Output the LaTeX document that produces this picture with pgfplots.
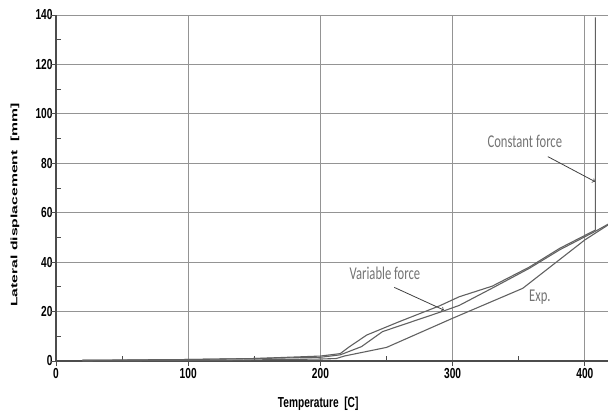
\documentclass[border=0pt]{standalone}
\usepackage{pgfplots}
\pgfplotsset{compat=1.18}
\usepackage{fontspec}
\setmainfont{Liberation Sans}
\newfontfamily\tickfont[FakeStretch=0.7]{Liberation Sans}
\newfontfamily\ylabfont[FakeStretch=1.69]{Liberation Sans}
\newfontfamily\annfont[FakeStretch=0.7]{Carlito}
\definecolor{curve}{gray}{0.38}
\definecolor{gridc}{gray}{0.58}
\definecolor{anntext}{gray}{0.45}
\begin{document}
\begin{tikzpicture}
\begin{axis}[name=ax, width=552pt, height=346pt, scale only axis,
  xmin=0, xmax=417.5, ymin=0, ymax=140,
  xtick={0,100,...,400}, ytick={0,20,...,140},
  minor xtick={50,150,250,350}, minor ytick={10,30,...,130},
  grid=major, major grid style={gridc, line width=0.9pt},
  axis lines*=left, axis line style={line width=1.3pt, black!70, -},
  tick align=inside, major tick length=0pt, minor tick length=5pt,
  minor tick style={black!70, line width=0.8pt},
  /pgf/number format/assume math mode=true,
  ticklabel style={font=\tickfont\bfseries\fontsize{14.5}{16}\selectfont},
  xticklabel style={yshift=-4pt},
  extra x ticks={0,100,200,300,400}, extra x tick labels={},
  extra y ticks={0,20,...,140}, extra y tick labels={},
  extra tick style={tick align=outside, major tick length=5pt, grid=none,
    major tick style={black!70, line width=0.8pt}},
  xlabel={Temperature\ \ [C]},
  xlabel style={font=\tickfont\bfseries\fontsize{14.5}{16}\selectfont,
    at={(axis description cs:0.475,-0.124)}, anchor=center},
  ylabel={Lateral displacement\ \ [mm]},
  ylabel style={font=\ylabfont\bfseries\fontsize{9.3}{11}\selectfont,
    at={(axis description cs:-0.0743,0.451)}, anchor=center},
]
\addplot[curve, line width=1.1pt] coordinates {
  (20,0.3)(60,0.4)(100,0.6)(150,1.0)(200,2.0)(215,3.0)(222,5.8)(235,10.5)
  (260,16)(290,22.3)(305,26)(330,30.3)(358,38)(381,45.6)(408,53)(408,139)};
\addplot[curve, line width=1.1pt] coordinates {
  (20,0.3)(100,0.6)(150,1.0)(200,1.5)(215,2.5)(231,5.8)(247,11.9)(293,20.2)
  (305,22.5)(330,29.5)(358,37.5)(381,45)(408,52.5)(418,55.5)};
\addplot[curve, line width=1.1pt] coordinates {
  (20,0)(130,0.3)(200,0.8)(212,1)(218,2)(250,5.5)(300,17.3)(353,29.4)
  (400,49)(418,55.2)};
\node[font=\annfont\fontsize{18}{20}\selectfont, text=anntext] at (axis cs:354.6,89) {Constant force};
\draw[->, black!75, line width=0.8pt] (axis cs:372,82.7) -- (axis cs:407.6,72.6);
\node[font=\annfont\fontsize{18}{20}\selectfont, text=anntext] at (axis cs:248.8,35.6) {Variable force};
\draw[->, black!75, line width=0.8pt] (axis cs:255.8,29.8) -- (axis cs:293.4,20.6);
\node[font=\annfont\fontsize{18}{20}\selectfont, text=anntext] at (axis cs:366,26) {Exp.};
\end{axis}
\pgfresetboundingbox
\path[use as bounding box] ([xshift=-56pt,yshift=-57pt]ax.south west) rectangle ([yshift=15pt]ax.north east);
\end{tikzpicture}
\end{document}
